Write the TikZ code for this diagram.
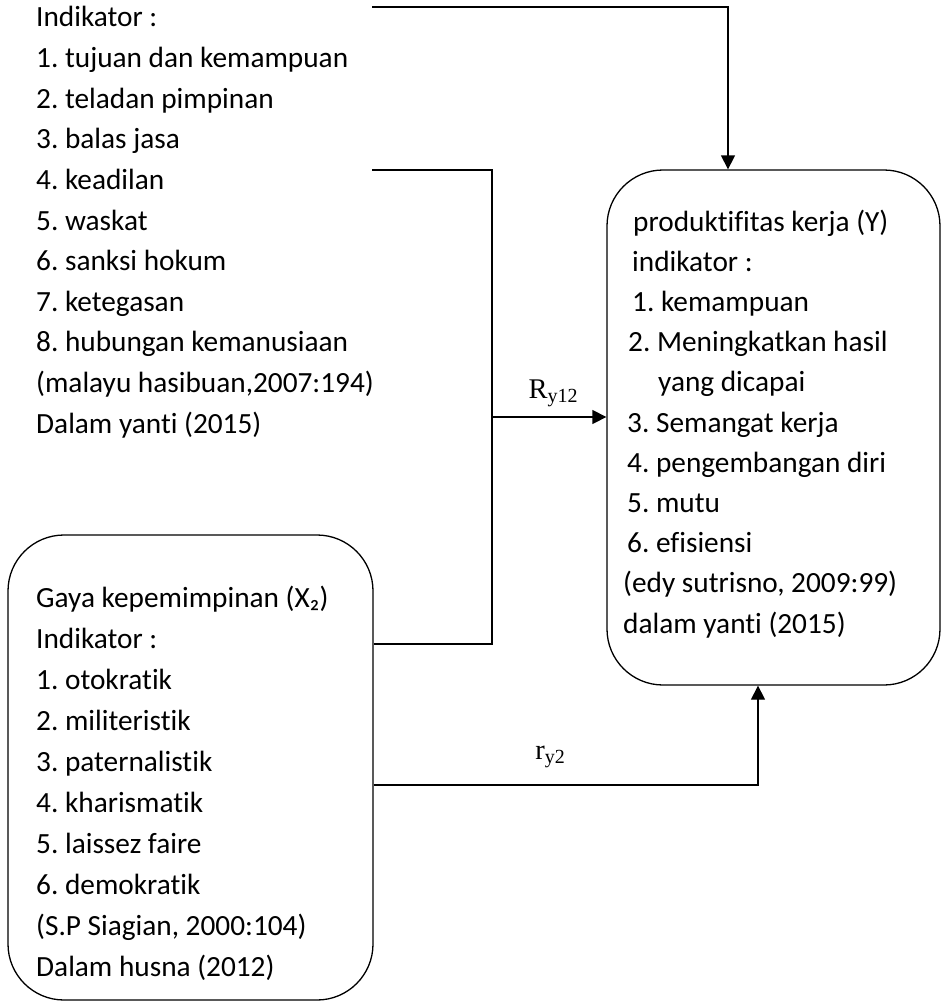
\documentclass[tikz,border=0pt]{standalone}
\usepackage{fontspec}
\setmainfont{Carlito}[Ligatures=NoCommon]
\newfontfamily\lblfont{Liberation Serif}
\usetikzlibrary{arrows.meta}
\frenchspacing
\begin{document}
\begin{tikzpicture}[x=1pt,y=-1pt,
  txt/.style={anchor=base west, inner sep=0pt, font=\fontsize{29.3}{34}\selectfont},
  box/.style={draw, line width=1.3pt, rounded corners=56pt, inner sep=0pt},
  conn/.style={line width=1.3pt},
  arr/.style={conn, -{Triangle[length=14pt,width=14pt]}},
  lbl/.style={inner sep=0pt, font=\lblfont\fontsize{28.5}{32}\selectfont}]
\useasboundingbox (0,0) rectangle (941,1001);
% boxes
\node[box, minimum width=365pt, minimum height=465pt] (gaya) at (190.5,767.5) {};
\node[box, minimum width=333pt, minimum height=515pt] (ybox) at (773.5,427.5) {};
% top-left text
\foreach \t [count=\i from 0] in {Indikator :, 1. tujuan dan kemampuan, 2. teladan pimpinan, 3. balas jasa, 4. keadilan, 5. waskat, 6. sanksi hokum, 7. ketegasan, 8. hubungan kemanusiaan, {(malayu hasibuan,2007:194)}, Dalam yanti (2015)}
  \node[txt] (a\i) at (36,{27+40.6*\i}) {\t};
% Gaya text
\foreach \t [count=\i from 0] in {Gaya kepemimpinan (X₂), Indikator :, 1. otokratik, 2. militeristik, 3. paternalistik, 4. kharismatik, 5. laissez faire, 6. demokratik, {(S.P Siagian, 2000:104)}, Dalam husna (2012)}
  \node[txt] (g\i) at (36,{607+41*\i}) {\t};
% Y text
\foreach \t/\xx [count=\i from 0] in {produktifitas kerja (Y)/633, indikator :/632, 1. kemampuan/632, 2. Meningkatkan hasil/628, yang dicapai/658, 3. Semangat kerja/627, 4. pengembangan diri/627, 5. mutu/627, 6. efisiensi/627, {(edy sutrisno, 2009:99)}/623, dalam yanti (2015)/623}
  \node[txt] (y\i) at (\xx,{231+40.2*\i}) {\t};
% connectors
\coordinate (s1) at (372,7);
\coordinate (s2) at (372,170);
\coordinate (j1) at (492,417);
\draw[arr] (s1) -| (ybox.north -| 728,0);
\draw[conn] (s2) -| (j1) |- (gaya.east |- 0,644);
\draw[arr] (j1) -- (j1 -| ybox.west);
\draw[arr] (gaya.east |- 0,785) -| (ybox.south -| 758,0);
% labels
\node[lbl] (ry12) at (553,393) {R\raisebox{-4pt}{\fontsize{20}{20}\selectfont y12}};
\node[lbl] (ry2) at (550,757) {r\raisebox{-4pt}{\fontsize{20}{20}\selectfont y2}};
\end{tikzpicture}
\end{document}
